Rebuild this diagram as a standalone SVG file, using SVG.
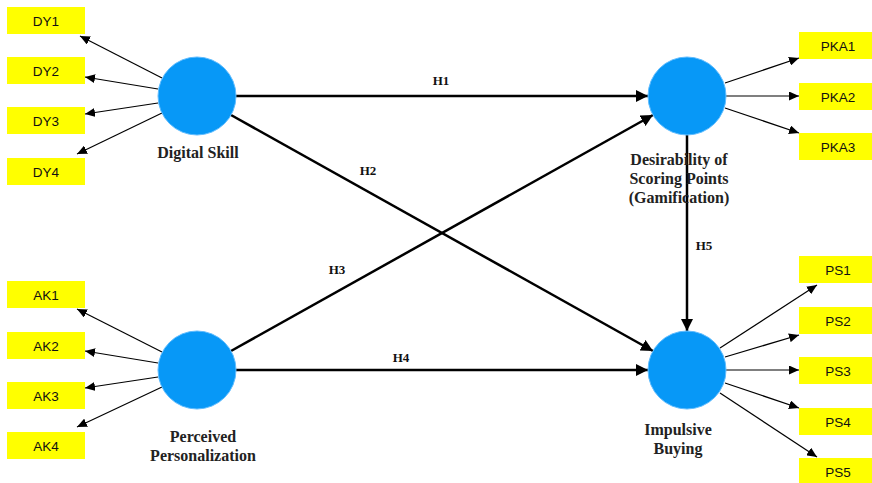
<svg xmlns="http://www.w3.org/2000/svg" width="872" height="483" viewBox="0 0 872 483">
<style>
.box{fill:#ffff00}
.bt{font-family:"Liberation Sans",Arial,sans-serif;font-size:13.5px;fill:#111;text-anchor:middle}
.lv{fill:#0798f7;stroke:#5fbcff;stroke-width:1}
.lb{font-family:"Liberation Serif","Times New Roman",serif;font-weight:bold;font-size:16px;fill:#222;text-anchor:middle}
.hl{font-family:"Liberation Serif","Times New Roman",serif;font-weight:bold;font-size:13px;fill:#111;text-anchor:middle}
.thick{stroke:#000;stroke-width:2.5;fill:none;marker-end:url(#ah)}
.thin{stroke:#000;stroke-width:1.2;fill:none;marker-end:url(#as)}
</style>
<defs>
<marker id="ah" viewBox="0 0 12 12" refX="12" refY="6" markerWidth="12" markerHeight="12" markerUnits="userSpaceOnUse" orient="auto"><path d="M0,0 L12,6 L0,12 z" fill="#000"/></marker>
<marker id="as" viewBox="0 0 10 10" refX="10" refY="5" markerWidth="10" markerHeight="9" markerUnits="userSpaceOnUse" orient="auto" preserveAspectRatio="none"><path d="M0,0 L10,5 L0,10 z" fill="#000"/></marker>
</defs>
<rect width="872" height="483" fill="#fff"/>
<g id="connectors">
<line class="thick" x1="235" y1="96" x2="648" y2="96"/>
<line class="thick" x1="231" y1="115" x2="653" y2="351"/>
<line class="thick" x1="231" y1="351" x2="653" y2="115"/>
<line class="thick" x1="235" y1="370" x2="648" y2="370"/>
<line class="thick" x1="687" y1="135" x2="687" y2="331"/>
<line class="thin" x1="162" y1="78" x2="80" y2="36"/>
<line class="thin" x1="158" y1="89" x2="85" y2="77"/>
<line class="thin" x1="158" y1="103" x2="85" y2="114"/>
<line class="thin" x1="162" y1="113" x2="77" y2="154"/>
<line class="thin" x1="162" y1="352" x2="77" y2="309"/>
<line class="thin" x1="158" y1="363" x2="85" y2="351"/>
<line class="thin" x1="158" y1="377" x2="85" y2="388"/>
<line class="thin" x1="162" y1="387" x2="77" y2="427"/>
<line class="thin" x1="725" y1="83" x2="799" y2="58"/>
<line class="thin" x1="726" y1="96" x2="799" y2="96"/>
<line class="thin" x1="725" y1="108" x2="799" y2="133"/>
<line class="thin" x1="720" y1="348" x2="817" y2="285"/>
<line class="thin" x1="725" y1="357" x2="799" y2="335"/>
<line class="thin" x1="726" y1="370" x2="799" y2="370"/>
<line class="thin" x1="725" y1="383" x2="799" y2="408"/>
<line class="thin" x1="720" y1="393" x2="817" y2="457"/>
<text class="hl" x="441" y="85">H1</text>
<text class="hl" x="368" y="175">H2</text>
<text class="hl" x="337" y="274">H3</text>
<text class="hl" x="401" y="362">H4</text>
<text class="hl" x="704" y="250">H5</text>
</g>
<g id="digital-skill">
<circle class="lv" cx="197" cy="96" r="39"/>
<text class="lb" x="198" y="158">Digital Skill</text>
</g>
<g id="perceived-personalization">
<circle class="lv" cx="197" cy="370" r="39"/>
<text class="lb" x="203" y="442">Perceived</text>
<text class="lb" x="203" y="461">Personalization</text>
</g>
<g id="desirability">
<circle class="lv" cx="687" cy="96" r="39"/>
<text class="lb" x="679" y="165">Desirability of</text>
<text class="lb" x="679" y="184">Scoring Points</text>
<text class="lb" x="679" y="203">(Gamification)</text>
</g>
<g id="impulsive-buying">
<circle class="lv" cx="687" cy="370" r="39"/>
<text class="lb" x="678" y="435">Impulsive</text>
<text class="lb" x="678" y="454">Buying</text>
</g>
<g id="DY1"><rect class="box" x="7" y="7" width="78" height="27"/><text class="bt" x="46" y="26">DY1</text></g>
<g id="DY2"><rect class="box" x="7" y="57" width="78" height="27"/><text class="bt" x="46" y="76">DY2</text></g>
<g id="DY3"><rect class="box" x="7" y="107" width="78" height="27"/><text class="bt" x="46" y="126">DY3</text></g>
<g id="DY4"><rect class="box" x="7" y="158" width="78" height="27"/><text class="bt" x="46" y="177">DY4</text></g>
<g id="AK1"><rect class="box" x="7" y="281" width="78" height="27"/><text class="bt" x="46" y="300">AK1</text></g>
<g id="AK2"><rect class="box" x="7" y="332" width="78" height="27"/><text class="bt" x="46" y="351">AK2</text></g>
<g id="AK3"><rect class="box" x="7" y="382" width="78" height="27"/><text class="bt" x="46" y="401">AK3</text></g>
<g id="AK4"><rect class="box" x="7" y="432" width="78" height="27"/><text class="bt" x="46" y="451">AK4</text></g>
<g id="PKA1"><rect class="box" x="799" y="32" width="78" height="27"/><text class="bt" x="838" y="51">PKA1</text></g>
<g id="PKA2"><rect class="box" x="799" y="83" width="78" height="27"/><text class="bt" x="838" y="102">PKA2</text></g>
<g id="PKA3"><rect class="box" x="799" y="133" width="78" height="27"/><text class="bt" x="838" y="152">PKA3</text></g>
<g id="PS1"><rect class="box" x="799" y="256" width="78" height="27"/><text class="bt" x="838" y="275">PS1</text></g>
<g id="PS2"><rect class="box" x="799" y="307" width="78" height="27"/><text class="bt" x="838" y="326">PS2</text></g>
<g id="PS3"><rect class="box" x="799" y="357" width="78" height="27"/><text class="bt" x="838" y="376">PS3</text></g>
<g id="PS4"><rect class="box" x="799" y="408" width="78" height="27"/><text class="bt" x="838" y="427">PS4</text></g>
<g id="PS5"><rect class="box" x="799" y="458" width="78" height="27"/><text class="bt" x="838" y="477">PS5</text></g>
</svg>
